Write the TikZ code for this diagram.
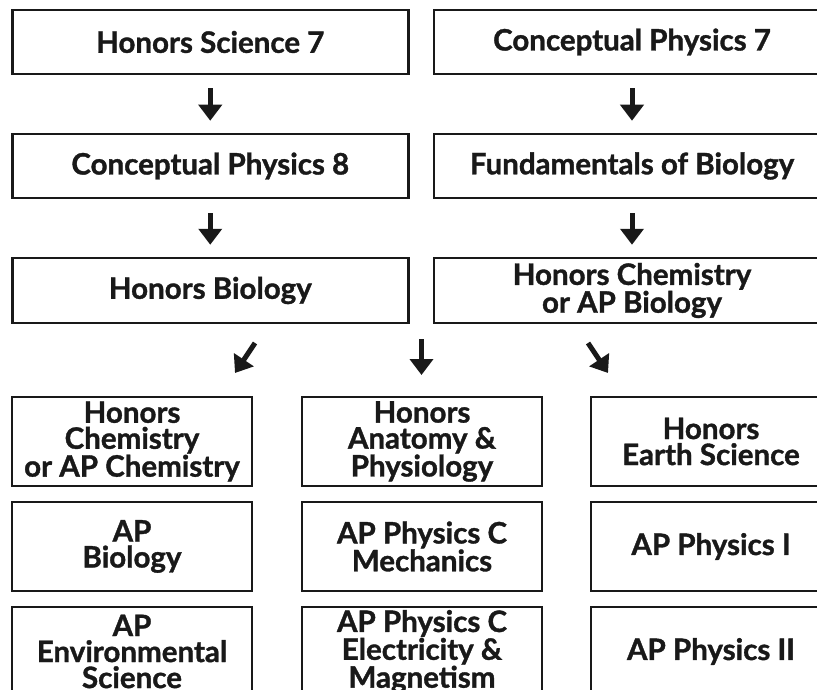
\documentclass[tikz,border=0pt]{standalone}
\usepackage{fontspec}
\setmainfont{Lato}[BoldFeatures={FakeBold=1.2}]
\usetikzlibrary{arrows.meta}
\begin{document}
\begin{tikzpicture}[x=1pt,y=-1pt,
  box/.style={draw=black!90, line width=2.5pt, minimum height=64pt, inner sep=0pt,
    align=center, font=\fontsize{29.5}{26}\selectfont\bfseries, text=black!90},
  wide/.style={box, minimum width=396pt},
  narrow/.style={box, minimum width=240pt, minimum height=89pt},
  arr/.style={draw=black!90, line width=5pt, -{Triangle[width=23pt,length=16pt]}}
]
\useasboundingbox (0,0) rectangle (817,690);
\clip (0,0) rectangle (817,690);
% row 1
\node[wide] (hs7) at (210.25,42) {Honors Science 7};
\node[wide] (cp7) at (632,42) {Conceptual Physics 7};
% row 2
\node[wide] (cp8) at (210.25,166) {Conceptual Physics 8};
\node[wide] (fob) at (632,166) {Fundamentals of Biology};
% row 3
\node[wide, minimum height=65pt] (hb) at (210.25,290.5) {Honors Biology};
\node[wide, minimum height=65pt] (hc) at (632,290.5) {Honors Chemistry\\or AP Biology};
% row 4
\node[narrow] (hcap) at (132,441.5) {Honors\\Chemistry\\or AP Chemistry};
\node[narrow] (hap) at (422,441.5) {Honors\\Anatomy \&\\Physiology};
\node[narrow] (hes) at (711,441.5) {Honors\\Earth Science};
% row 5
\node[narrow] (apb) at (132,546.5) {AP\\Biology};
\node[narrow] (apcm) at (422,546.5) {AP Physics C\\Mechanics};
\node[narrow] (ap1) at (711,546.5) {AP Physics I};
% row 6
\node[narrow] (apes) at (132,651.5) {AP\\Environmental\\Science};
\node[narrow] (apce) at (422,651.5) {AP Physics C\\Electricity \&\\Magnetism};
\node[narrow] (ap2) at (711,651.5) {AP Physics II};
% arrows
\draw[arr, shorten <=13pt, shorten >=12pt] (hs7) -- (cp8);
\draw[arr, shorten <=13pt, shorten >=12pt] (cp7) -- (fob);
\draw[arr, shorten <=14pt, shorten >=12pt] (cp8) -- (hb);
\draw[arr, shorten <=14pt, shorten >=12pt] (fob) -- (hc);
\coordinate (l1) at (255,343);
\coordinate (l2) at (235,373);
\coordinate (m1) at (421.5,339);
\coordinate (m2) at (421.5,375);
\coordinate (r1) at (588,343);
\coordinate (r2) at (608,373);
\draw[arr] (l1) -- (l2);
\draw[arr] (m1) -- (m2);
\draw[arr] (r1) -- (r2);
\end{tikzpicture}
\end{document}
